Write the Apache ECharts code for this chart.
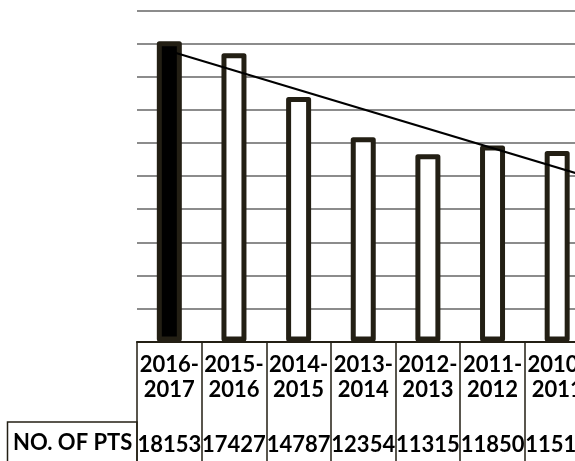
<!DOCTYPE html>
<html>
<head>
<meta charset="utf-8">
<script src="https://cdn.jsdelivr.net/npm/echarts@6/dist/echarts.min.js"></script>
<style>html,body{margin:0;padding:0;background:#fff;}#c{width:575px;height:461px;}</style>
</head>
<body>
<div id="c"></div>
<script>
// ---- data ----
const categories = ['2016-2017', '2015-2016', '2014-2015', '2013-2014', '2012-2013', '2011-2012', '2010-2011'];
const patients = [18153, 17427, 14787, 12354, 11315, 11850, 11514];
const rowTitle = 'NO. OF PTS';
// linear trend line as seen in the picture (category position, value)
const trendX = [0, 6.5];
const trendY = [17560, 9930];
// y axis scale (labels are hidden in the reference)
const yMin = 0, yMax = 20000, yStep = 2000;

const dark = '#231f14';
const font = 'Lato, "Open Sans", "Noto Sans", sans-serif';

const chart = echarts.init(document.getElementById('c'), null, {renderer: 'canvas'});

const option = {
  animation: false,
  backgroundColor: '#fff',
  grid: {left: 137, top: 10.7, width: 452.5, height: 330.8, containLabel: false, outerBoundsMode: 'none'},
  xAxis: [
    {
      type: 'category',
      data: categories,
      position: 'bottom',
      z: 5,
      axisLine: {show: true, lineStyle: {color: dark, width: 2}},
      axisTick: {show: true, interval: 0, length: 125, lineStyle: {color: dark, width: 1.5}},
      axisLabel: {
        interval: 0, margin: 11, color: '#000', fontFamily: font, fontWeight: 'bold',
        fontSize: 22, lineHeight: 25,
        formatter: v => v.replace('-', '-\n')
      },
      splitLine: {show: false}
    },
    {
      type: 'category',
      data: categories,
      position: 'bottom',
      axisLine: {show: false},
      axisTick: {show: false},
      axisLabel: {
        interval: 0, margin: 92, color: '#000', fontFamily: font, fontWeight: 'bold',
        fontSize: 22, lineHeight: 22,
        formatter: (v, i) => String(patients[i])
      },
      splitLine: {show: false}
    },
    {
      type: 'value', show: false, min: -0.5, max: categories.length - 0.5
    }
  ],
  yAxis: {
    type: 'value', min: yMin, max: yMax, interval: yStep,
    axisLabel: {show: false}, axisLine: {show: false}, axisTick: {show: false},
    splitLine: {show: true, lineStyle: {color: '#8c8c8c', width: 2}}
  },
  series: [
    {
      type: 'bar',
      xAxisIndex: 0,
      barWidth: 25,
      z: 2,
      data: patients.map((v, i) => ({
        value: v,
        itemStyle: {color: i === 0 ? '#000' : '#fff', borderColor: dark, borderWidth: 5, borderJoin: 'round'}
      }))
    },
    {
      type: 'line',
      xAxisIndex: 2,
      symbol: 'none',
      z: 4,
      lineStyle: {color: '#000', width: 2},
      data: trendX.map((x, i) => [x, trendY[i]])
    }
  ],
  graphic: [
    {
      type: 'rect', z: 10,
      shape: {x: 7.5, y: 422, width: 129.5, height: 60},
      style: {fill: 'none', stroke: dark, lineWidth: 1.5}
    },
    {
      type: 'text', z: 10, left: 13, top: 432,
      style: {text: rowTitle, fill: '#000', font: 'bold 22px ' + font}
    }
  ]
};
chart.setOption(option);
</script>
</body>
</html>
